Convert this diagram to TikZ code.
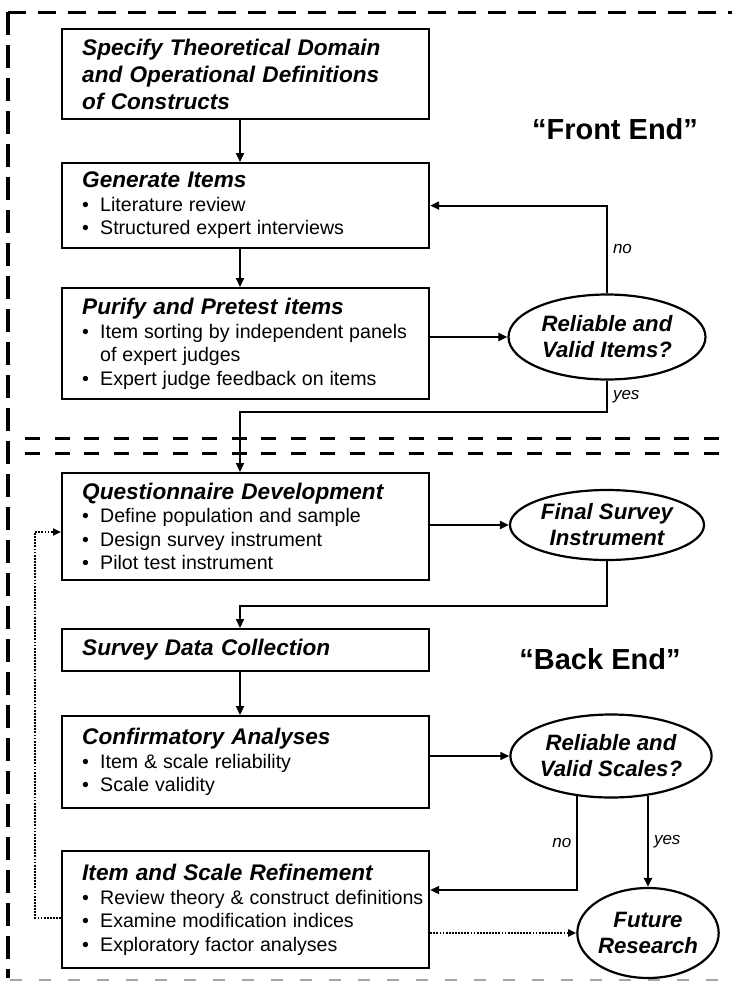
\documentclass[tikz,border=0pt]{standalone}
\usepackage{fontspec}
\setmainfont{Liberation Sans}
\usetikzlibrary{arrows.meta,shapes.geometric}
\newcommand{\ttlf}{\fontsize{22.6}{27}\selectfont\bfseries\itshape\spaceskip=0.32em plus 0.1em\relax}
\newcommand{\bulf}{\fontsize{19.6}{23.5}\selectfont\spaceskip=0.3em plus 0.05em\relax}
\newcommand{\ellf}{\fontsize{22.2}{26}\selectfont\bfseries\itshape}
\newcommand{\bitem}[1]{\par\hangindent=18pt\hangafter=1\noindent\makebox[18pt][l]{\textbullet}#1\par}
\begin{document}
\begin{tikzpicture}[x=1pt,y=-1pt,
  box/.style={draw, line width=2.2pt, minimum width=367pt, inner sep=0pt, anchor=north west},
  txt/.style={align=left, text width=345pt, inner sep=0pt, anchor=west},
  ell/.style={draw, ellipse, line width=2.2pt, inner sep=0pt, align=center, font=\ellf},
  arr/.style={line width=2pt, -{Triangle[length=9pt,width=8pt]}},
  dotarr/.style={line width=2.2pt, dash pattern=on 1.8pt off 1.3pt, -{Triangle[length=8pt,width=7pt]}},
  lab/.style={font=\fontsize{17}{20}\selectfont\itshape, inner sep=5pt},
  framel/.style={line width=3pt, dash pattern=on 18pt off 12pt},
  framev/.style={line width=3.2pt, dash pattern=on 23pt off 10pt},
  framem/.style={line width=3pt, dash pattern=on 15pt off 14.5pt},
  frameb/.style={line width=1.6pt, gray!70, dash pattern=on 12pt off 17pt},
  big/.style={font=\fontsize{29}{33}\selectfont\bfseries}
]
\useasboundingbox (0,0) rectangle (732,983);

% frame
\draw[framel] (8,12) -- (732,12);
\draw[framev] (8,12) -- (8,978);
\draw[framem] (25,438) -- (732,438);
\draw[framem] (25,453) -- (732,453);
\draw[frameb] (10,980) -- (732,980);

% helper coordinates
\coordinate (spine) at (240,0);
\coordinate (yl) at (0,412);
\coordinate (y2) at (0,606);
\coordinate (noY) at (0,890);
\coordinate (dl) at (35,0);
\coordinate (dy1) at (0,918);
\coordinate (dy2) at (0,532);

% boxes
\node[box, minimum height=90pt] (b1) at (61,28) {};
\node[box, minimum height=85pt] (b2) at (61,162) {};
\node[box, minimum height=111pt] (b3) at (61,287) {};
\node[box, minimum height=107pt] (b4) at (61,472) {};
\node[box, minimum height=42pt] (b5) at (61,628) {};
\node[box, minimum height=92pt] (b6) at (61,715) {};
\node[box, minimum height=117pt] (b7) at (61,850) {};

% box texts
\node[txt] (t1) at ([xshift=21pt]b1.west) {{\ttlf Specify Theoretical Domain\newline and Operational Definitions\newline of Constructs\par}};
\node[txt] (t2) at ([xshift=21pt]b2.west) {{\ttlf Generate Items\par}{\bulf\bitem{Literature review}\bitem{Structured expert interviews}}};
\node[txt] (t3) at ([xshift=21pt]b3.west) {{\ttlf Purify and Pretest items\par}{\bulf\bitem{Item sorting by independent panels\newline of expert judges}\bitem{Expert judge feedback on items}}};
\node[txt] (t4) at ([xshift=21pt]b4.west) {{\ttlf Questionnaire Development\par}{\bulf\bitem{Define population and sample}\bitem{Design survey instrument}\bitem{Pilot test instrument}}};
\node[txt] (t5) at ([xshift=21pt]b5.west) {{\ttlf Survey Data Collection\par}};
\node[txt] (t6) at ([xshift=21pt]b6.west) {{\ttlf Confirmatory Analyses\par}{\bulf\bitem{Item \& scale reliability}\bitem{Scale validity}}};
\node[txt] (t7) at ([xshift=21pt]b7.west) {{\ttlf Item and Scale Refinement\par}{\bulf\bitem{Review theory \& construct definitions}\bitem{Examine modification indices}\bitem{Exploratory factor analyses}}};

% ellipses
\node[ell, minimum width=197pt, minimum height=85pt] (e1) at (607,337) {Reliable and\\Valid Items?};
\node[ell, minimum width=194pt, minimum height=70pt] (e2) at (607,525) {Final Survey\\Instrument};
\node[ell, minimum width=196pt, minimum height=83pt] (e3) at (611,756) {Reliable and\\Valid Scales?};
\node[ell, minimum width=129pt, minimum height=90pt] (e4) at (648,933) {Future\\Research};

% section labels
\node[big] (fe) at (615,129) {“Front End”};
\node[big] (be) at (600,659) {“Back End”};

% connectors
\draw[arr] (b1.south -| spine) -- (b2.north -| spine);
\draw[arr] (b2.south -| spine) -- (b3.north -| spine);
\draw[arr] (b3.east |- e1.west) -- (e1.west);
\draw[arr] (e1.north) -- node[lab,right]{no} (e1.north |- b2.east) -- (b2.east);
\draw[arr] (e1.south) -- node[lab,right]{yes} (e1.south |- yl) -- (spine |- yl) -- (b4.north -| spine);
\draw[arr] (b4.east |- e2.west) -- (e2.west);
\draw[arr] (e2.south) -- (e2.south |- y2) -- (spine |- y2) -- (b5.north -| spine);
\draw[arr] (b5.south -| spine) -- (b6.north -| spine);
\draw[arr] (b6.east |- e3.west) -- (e3.west);
\draw[arr] (e3.230) -- node[lab,left]{no} (e3.230 |- noY) -- (b7.east |- noY);
\draw[arr] (e3.312 -| e4.north) -- node[lab,right]{yes} (e4.north);
\draw[dotarr] (b7.east |- e4.west) -- (e4.west);
\draw[dotarr] (b7.west |- dy1) -- (dl |- dy1) -- (dl |- dy2) -- (b4.west |- dy2);
\end{tikzpicture}
\end{document}
